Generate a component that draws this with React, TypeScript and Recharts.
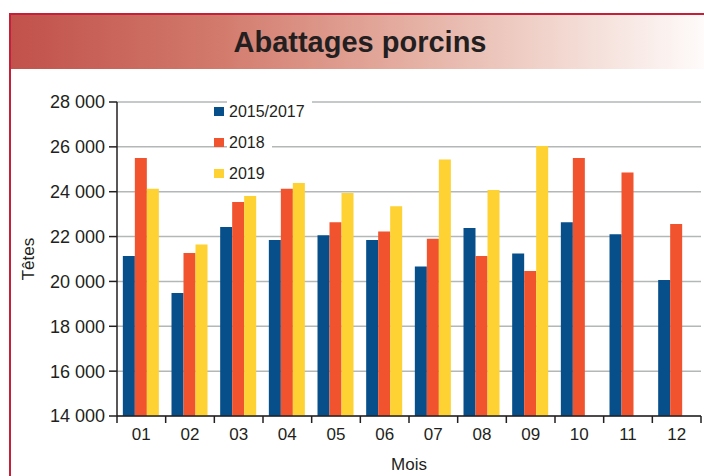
import { BarChart, Bar, XAxis, YAxis, CartesianGrid, Legend } from 'recharts';

const months = ['01', '02', '03', '04', '05', '06', '07', '08', '09', '10', '11', '12'];
const avg2015_2017 = [21130, 19480, 22430, 21850, 22060, 21850, 20670, 22380, 21250, 22640, 22100, 20060];
const y2018 = [25500, 21270, 23540, 24130, 22640, 22230, 21900, 21130, 20460, 25500, 24860, 22560];
const y2019 = [24130, 21650, 23810, 24390, 23940, 23350, 25440, 24080, 26040, null, null, null];
const yTicks = [14000, 16000, 18000, 20000, 22000, 24000, 26000, 28000];

const data = months.map((m, i) => ({
    mois: m,
    a: avg2015_2017[i],
    b: y2018[i],
    c: y2019[i],
}));

const INK = '#231f20';
const FONT = '"Liberation Sans", Arial, sans-serif';

// thousands with a plain space: 28 000
const fmt = (v: number) => String(v).replace(/\B(?=(\d{3})+(?!\d))/g, ' ');

// month label centred, tick marks on the category boundaries
const MonthTick = (props: any) => {
    const { x, y, payload } = props;
    const half = payload.offset || 584 / 12 / 2;
    const last = payload.value === months[months.length - 1];
    return (
        <g>
            <line x1={x - half} x2={x - half} y1={y} y2={y + 7} stroke={INK} strokeWidth={1.5} />
            {last && <line x1={x + half} x2={x + half} y1={y} y2={y + 7} stroke={INK} strokeWidth={1.5} />}
            <text x={x} y={y + 24} textAnchor="middle" fill={INK} fontSize={17}>
                {payload.value}
            </text>
        </g>
    );
};

const renderLegend = (props: any) => {
    const { payload } = props;
    return (
        <div style={{ fontFamily: FONT }}>
            {(payload || []).map((entry: any) => (
                <div key={entry.value} style={{ height: 31, display: 'flex', alignItems: 'center' }}>
                    <span style={{ width: 10, height: 9, background: entry.color, marginRight: 3 }} />
                    <span style={{ background: '#fff', padding: '4px 7px 4px 2px', fontSize: 16, color: INK, lineHeight: '18px' }}>
                        {entry.value}
                    </span>
                </div>
            ))}
        </div>
    );
};

export default function App() {
    return (
        <div style={{ position: 'absolute', left: 0, top: 0, width: 704, height: 476, overflow: 'hidden', background: '#fff', fontFamily: FONT }}>
            {/* frame */}
            <div style={{ position: 'absolute', left: 9, top: 13, width: 720, height: 480, borderTop: '2px solid #c51f3a', borderLeft: '2px solid #c51f3a' }} />
            <div style={{
                position: 'absolute', left: 11, top: 15, right: 0, height: 54,
                background: 'linear-gradient(to right, #c1514b 0%, #d27a6c 30%, #e3aa9d 55%, #f1d5cd 78%, #fefbfa 100%)'
            }} />
            <div style={{
                position: 'absolute', left: 0, top: 15, width: 720, height: 54, lineHeight: '54px',
                textAlign: 'center', fontSize: 29, fontWeight: 'bold', color: INK
            }}>
                Abattages porcins
            </div>
            <div style={{ position: 'absolute', left: 0, top: 0 }}>
                <BarChart
                    width={704}
                    height={476}
                    data={data}
                    margin={{ top: 102, right: 3, left: 0, bottom: 0 }}
                    barCategoryGap="12%"
                    barGap={0}
                >
                    <CartesianGrid vertical={false} stroke="#b3b7b7" strokeWidth={1.5} />
                    <XAxis
                        dataKey="mois"
                        height={60}
                        tickLine={false}
                        tickSize={0}
                        tickMargin={0}
                        axisLine={{ stroke: INK, strokeWidth: 1.5 }}
                        tick={<MonthTick />}
                        interval={0}
                        label={{ value: 'Mois', position: 'insideBottom', offset: 6, fill: INK, fontSize: 17 }}
                    />
                    <YAxis
                        width={117}
                        domain={[14000, 28000]}
                        ticks={yTicks}
                        tickFormatter={fmt}
                        tickSize={8}
                        tickMargin={4}
                        tick={{ fill: INK, fontSize: 18 }}
                        tickLine={{ stroke: INK, strokeWidth: 1.5 }}
                        axisLine={{ stroke: INK, strokeWidth: 1.5 }}
                        label={{
                            content: ({ viewBox }: any) => (
                                <text
                                    x={viewBox.x + 28}
                                    y={viewBox.y + viewBox.height / 2}
                                    transform={`rotate(-90 ${viewBox.x + 28} ${viewBox.y + viewBox.height / 2})`}
                                    textAnchor="middle"
                                    dominantBaseline="central"
                                    fill={INK}
                                    fontSize={17}
                                >
                                    Têtes
                                </text>
                            ),
                        }}
                    />
                    <Legend
                        layout="vertical"
                        align="center"
                        verticalAlign="middle"
                        content={renderLegend}
                        wrapperStyle={{ left: 214, top: 96, width: 'auto' }}
                    />
                    <Bar dataKey="a" name="2015/2017" fill="#064f8b" isAnimationActive={false} />
                    <Bar dataKey="b" name="2018" fill="#f0532d" isAnimationActive={false} />
                    <Bar dataKey="c" name="2019" fill="#fdd232" isAnimationActive={false} />
                </BarChart>
            </div>
        </div>
    );
}
